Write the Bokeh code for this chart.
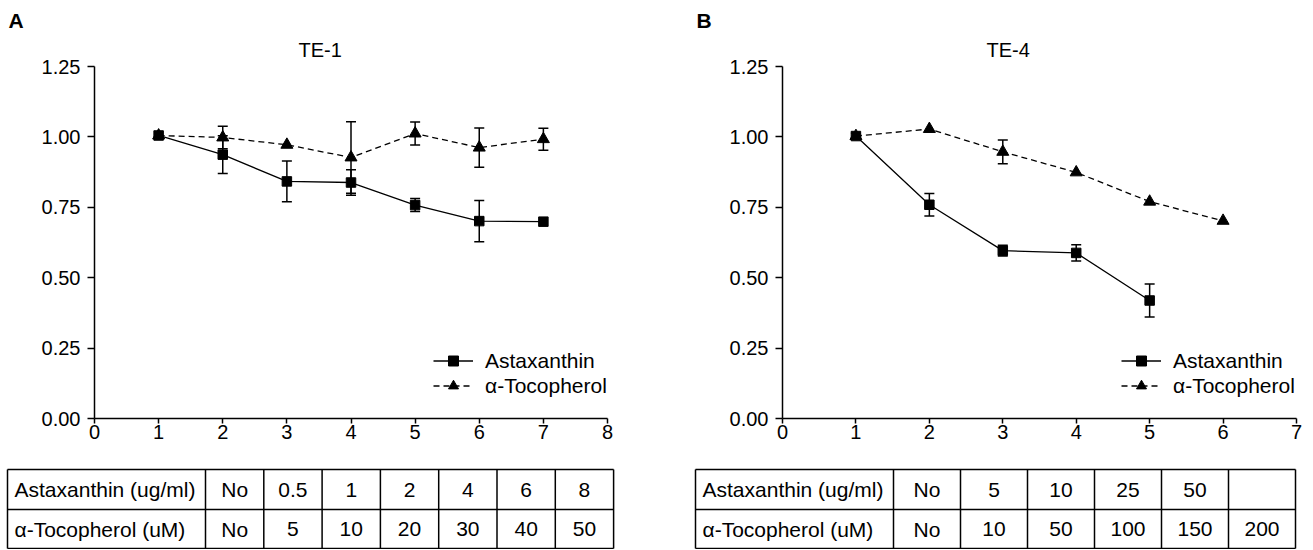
from bokeh.plotting import figure
from bokeh.models import (Range1d, FixedTicker, NumeralTickFormatter, Whisker, ColumnDataSource,
                          Legend, LegendItem, TeeHead, Title)
from bokeh.layouts import row, column
from bokeh.embed import file_html
from bokeh.resources import INLINE
from bokeh.core.properties import value

# ---------------- data ----------------
a_x = [1, 2, 3, 4, 5, 6, 7]
a_asta = [1.005, 0.937, 0.842, 0.838, 0.758, 0.701, 0.699]
a_asta_err = [0.0, 0.067, 0.072, 0.045, 0.023, 0.073, 0.0]
a_toco = [1.005, 0.998, 0.972, 0.927, 1.012, 0.962, 0.992]
a_toco_err = [0.0, 0.040, 0.0, 0.127, 0.041, 0.070, 0.039]

b_asta_x = [1, 2, 3, 4, 5]
b_asta = [1.003, 0.759, 0.596, 0.588, 0.419]
b_asta_err = [0.010, 0.040, 0.019, 0.029, 0.059]
b_toco_x = [1, 2, 3, 4, 5, 6]
b_toco = [1.003, 1.028, 0.947, 0.874, 0.770, 0.702]
b_toco_err = [0.0, 0.0, 0.042, 0.0, 0.0, 0.0]

y_ticks = [0, 0.25, 0.5, 0.75, 1.0, 1.25]
a_x_ticks = [0, 1, 2, 3, 4, 5, 6, 7, 8]
b_x_ticks = [0, 1, 2, 3, 4, 5, 6, 7]

series_names = ["Astaxanthin", "α-Tocopherol"]
panel_letters = ["A", "B"]
panel_titles = ["TE-1", "TE-4"]
table_row_labels = ["Astaxanthin (ug/ml)", "α-Tocopherol (uM)"]
a_table_asta = ["No", "0.5", "1", "2", "4", "6", "8"]
a_table_toco = ["No", "5", "10", "20", "30", "40", "50"]
b_table_asta = ["No", "5", "10", "25", "50", ""]
b_table_toco = ["No", "10", "50", "100", "150", "200"]

FONT = "Liberation Sans"
PAGE_W = 1312

# ---------------- layout constants (pixels) ----------------
A_LEFT, A_FW, A_RIGHT = 94, 513, 61
B_LEFT, B_FW, B_RIGHT = 114, 514, 16
FRAME_H = 352
TOP_B, BOT_B = 66, 42
TABLE_H = 89
TITLE_OFFSET = 204
LETTER_OFFSET = -86


def whisker(p, xs, ys, errs):
    keep = [i for i, e in enumerate(errs) if e > 0]
    src = ColumnDataSource(dict(
        x=[xs[i] for i in keep],
        upper=[ys[i] + errs[i] for i in keep],
        lower=[ys[i] - errs[i] for i in keep]))
    w = Whisker(source=src, base="x", upper="upper", lower="lower", dimension="height",
                line_color="black", line_width=1.5,
                upper_head=TeeHead(size=10, line_width=1.5, line_color="black"),
                lower_head=TeeHead(size=10, line_width=1.5, line_color="black"))
    p.add_layout(w)


def chart(xmax, xticks, ax, ay, aerr, tx, ty, terr, fw, bl, br, title, letter):
    p = figure(output_backend="svg", toolbar_location=None, title_location=None,
               x_range=Range1d(0, xmax), y_range=Range1d(0, 1.25),
               frame_width=fw, frame_height=FRAME_H,
               min_border_left=bl, min_border_right=br, min_border_top=TOP_B, min_border_bottom=BOT_B)
    # closest to the frame first, then the panel letter above it
    p.add_layout(Title(text=title, align="left", offset=TITLE_OFFSET, standoff=10,
                       vertical_align="middle", text_font=FONT, text_font_size="20px",
                       text_font_style="normal", text_color="black"), "above")
    p.add_layout(Title(text=letter, align="left", offset=LETTER_OFFSET, standoff=0,
                       vertical_align="middle", text_font=FONT, text_font_size="21px",
                       text_font_style="bold", text_color="black"), "above")
    p.outline_line_color = None
    p.grid.visible = False
    for ax_ in (p.xaxis, p.yaxis):
        ax_.axis_line_width = 1.5
        ax_.axis_line_color = "black"
        ax_.major_tick_line_width = 1.5
        ax_.major_tick_line_color = "black"
        ax_.minor_tick_line_color = None
        ax_.major_tick_in = 0
        ax_.major_label_text_font = FONT
        ax_.major_label_text_font_size = "20px"
        ax_.major_label_text_color = "black"
    p.xaxis.ticker = FixedTicker(ticks=xticks)
    p.yaxis.ticker = FixedTicker(ticks=y_ticks)
    p.yaxis.formatter = NumeralTickFormatter(format="0.00")
    p.xaxis.major_tick_out = 5
    p.xaxis.major_label_standoff = 1
    p.yaxis.major_tick_out = 7
    p.yaxis.major_label_standoff = 7

    whisker(p, ax, ay, aerr)
    whisker(p, tx, ty, terr)
    la = p.line(ax, ay, line_color="black", line_width=1.3)
    sa = p.scatter(ax, ay, marker="square", size=9.5, color="black")
    lt = p.line(tx, ty, line_color="black", line_width=1.3, line_dash="6 4")
    st = p.scatter(tx, ty, marker="triangle", size=12, color="black")

    leg = Legend(items=[LegendItem(label=series_names[0], renderers=[la, sa]),
                        LegendItem(label=series_names[1], renderers=[lt, st])],
                 location=(339, 20), padding=0, margin=0, spacing=0,
                 border_line_color=None, background_fill_alpha=0,
                 glyph_width=40, glyph_height=25, label_height=25, label_standoff=12,
                 label_text_font=FONT, label_text_font_size="21px", label_text_color="black")
    p.add_layout(leg)
    return p


def blank(width, height):
    f = figure(output_backend="svg", toolbar_location=None, title_location=None,
               width=width, height=height,
               x_range=Range1d(0, width), y_range=Range1d(height, 0), min_border=0,
               x_axis_location=None, y_axis_location=None)
    f.grid.visible = False
    f.outline_line_color = None
    return f


# ---------------- charts ----------------
pA = chart(8, a_x_ticks, a_x, a_asta, a_asta_err, a_x, a_toco, a_toco_err, A_FW, A_LEFT, A_RIGHT,
           panel_titles[0], panel_letters[0])
pB = chart(7, b_x_ticks, b_asta_x, b_asta, b_asta_err, b_toco_x, b_toco, b_toco_err, B_FW, B_LEFT, B_RIGHT,
           panel_titles[1], panel_letters[1])

# ---------------- tables ----------------
tables = blank(PAGE_W, TABLE_H)


def draw_table(t, left, first_w, col_w, top_vals, bot_vals):
    n = len(top_vals)
    x_edges = [left, left + first_w] + [left + first_w + col_w * (i + 1) for i in range(n)]
    y_edges = [9, 49, 88]
    t.segment(x0=[x_edges[0]] * 3, x1=[x_edges[-1]] * 3, y0=y_edges, y1=y_edges,
              line_color="black", line_width=1.5)
    t.segment(x0=x_edges, x1=x_edges, y0=[y_edges[0]] * len(x_edges), y1=[y_edges[-1]] * len(x_edges),
              line_color="black", line_width=1.5)
    row_c = [(y_edges[0] + y_edges[1]) / 2, (y_edges[1] + y_edges[2]) / 2]
    t.text(x=[left + 7] * 2, y=row_c, text=table_row_labels, text_font=value(FONT),
           text_font_size="21px", text_align="left", text_baseline="middle", text_color="black")
    centers = [(x_edges[i + 1] + x_edges[i + 2]) / 2 for i in range(n)]
    t.text(x=centers, y=[row_c[0]] * n, text=top_vals, text_font=value(FONT),
           text_font_size="21px", text_align="center", text_baseline="middle", text_color="black")
    t.text(x=centers, y=[row_c[1]] * n, text=bot_vals, text_font=value(FONT),
           text_font_size="21px", text_align="center", text_baseline="middle", text_color="black")


draw_table(tables, 7, 198, 58.3, a_table_asta, a_table_toco)
draw_table(tables, 695, 198, 67, b_table_asta, b_table_toco)

layout = column(row(pA, pB, spacing=0), tables, spacing=0)
open("out.html", "w").write(file_html(layout, INLINE))
